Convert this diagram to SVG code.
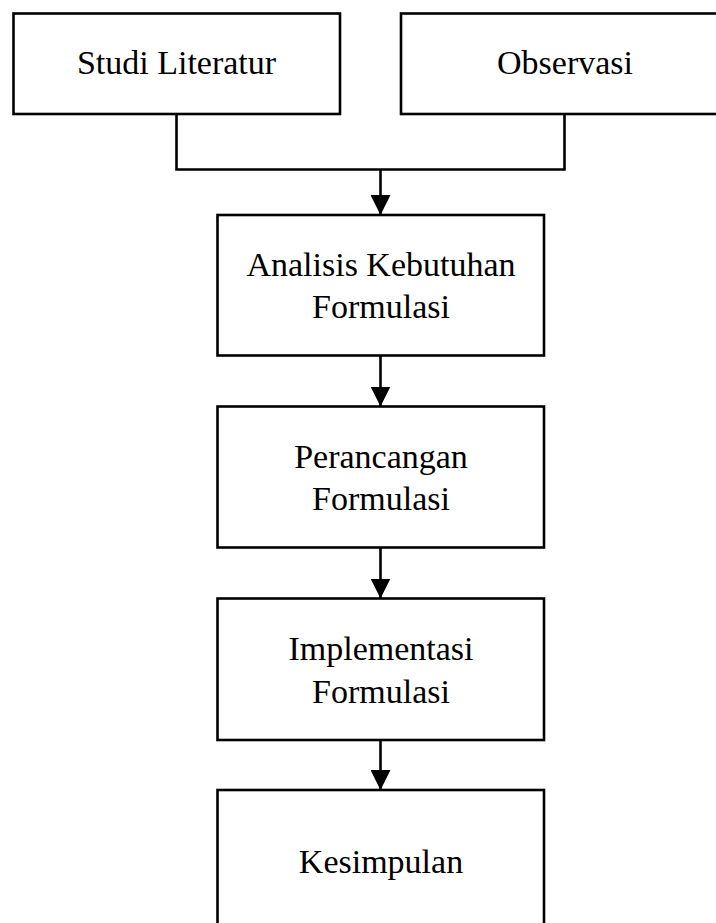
<svg xmlns="http://www.w3.org/2000/svg" width="716" height="923" viewBox="0 0 716 923">
<style>
.box{fill:#fff;stroke:#000;stroke-width:2.6}
.lbl{font-family:"Liberation Serif","Times New Roman",serif;font-size:34px;fill:#000;text-anchor:middle}
.ln{fill:none;stroke:#000;stroke-width:2.6}
</style>
<defs>
<marker id="ah" markerUnits="userSpaceOnUse" markerWidth="20" markerHeight="20" refX="20" refY="10" orient="auto" viewBox="0 0 20 20">
<path d="M0,0 L20,10 L0,20 Z" fill="#000"/>
</marker>
</defs>
<rect width="716" height="923" fill="#fff"/>
<g id="connectors">
<path class="ln" d="M176.5,114 V169.5 H564.5 V114"/>
<path class="ln" d="M380.5,169.5 V215" marker-end="url(#ah)"/>
<path class="ln" d="M380.5,355.5 V406.5" marker-end="url(#ah)"/>
<path class="ln" d="M380.5,547.5 V598.5" marker-end="url(#ah)"/>
<path class="ln" d="M380.5,740 V790" marker-end="url(#ah)"/>
</g>
<g id="studi-literatur">
<rect class="box" x="13.5" y="13.5" width="326.5" height="100.5"/>
<text class="lbl" x="176.5" y="74">Studi Literatur</text>
</g>
<g id="observasi">
<rect class="box" x="401" y="13.5" width="327" height="100.5"/>
<text class="lbl" x="565" y="74">Observasi</text>
</g>
<g id="analisis">
<rect class="box" x="217.5" y="215" width="326.5" height="140.5"/>
<text class="lbl" x="381" y="276">Analisis Kebutuhan</text>
<text class="lbl" x="381" y="317.5">Formulasi</text>
</g>
<g id="perancangan">
<rect class="box" x="217.5" y="406.5" width="326.5" height="141"/>
<text class="lbl" x="381" y="467.5">Perancangan</text>
<text class="lbl" x="381" y="510">Formulasi</text>
</g>
<g id="implementasi">
<rect class="box" x="217.5" y="598.5" width="326.5" height="141.5"/>
<text class="lbl" x="381" y="660">Implementasi</text>
<text class="lbl" x="381" y="703">Formulasi</text>
</g>
<g id="kesimpulan">
<rect class="box" x="217.5" y="790" width="326.5" height="141"/>
<text class="lbl" x="381" y="873">Kesimpulan</text>
</g>
</svg>
